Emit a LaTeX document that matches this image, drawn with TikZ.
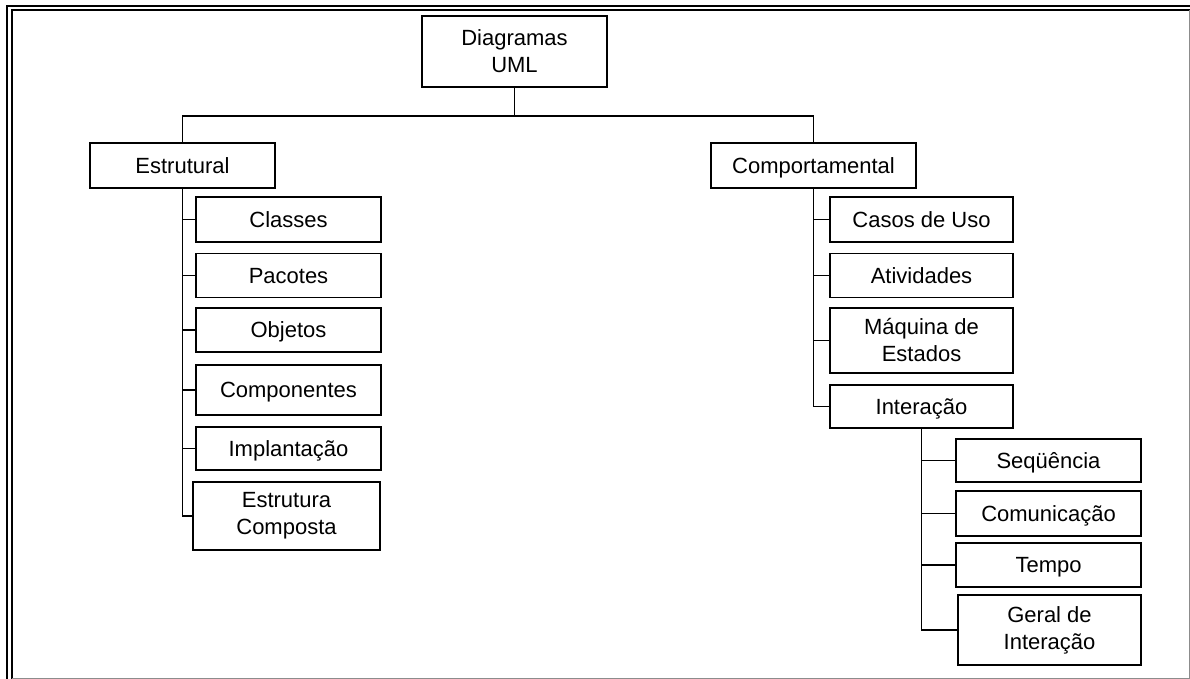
\documentclass[tikz,border=0pt]{standalone}
\usepackage{fontspec}
\setmainfont{Liberation Sans}
\begin{document}
\begin{tikzpicture}[x=1pt, y=-1pt,
  box/.style={draw, line width=1.7pt, inner sep=0pt, align=center,
    font=\fontsize{22}{27}\selectfont},
  one/.style={box, text height=15.5pt, text depth=0pt},
  link/.style={line width=1.7pt},
  frameline/.style={line width=1.6pt}]
\useasboundingbox (0,0) rectangle (1190,679);

% outer frame
\draw[frameline] (7,679) -- (7,6) -- (1190,6);
\draw[frameline] (12,679) -- (12,10) -- (1190,10);
\draw[line width=0.8pt, black!45] (1189,10) -- (1189,678) -- (12,678);

% root
\node[box, minimum width=185, minimum height=71] (root) at (514.5,51.5) {Diagramas\\UML};

% two main branches
\node[one, minimum width=185, minimum height=45] (estr) at (182.5,165.5) {Estrutural};
\node[one, minimum width=205, minimum height=45] (comp) at (813.5,165.5) {Comportamental};

% structural diagrams
\node[one, minimum width=185, minimum height=45] (cls) at (288.5,219.5) {Classes};
\node[one, minimum width=185, minimum height=44] (pac) at (288.5,275.5) {Pacotes};
\node[one, minimum width=185, minimum height=44] (obj) at (288.5,330) {Objetos};
\node[one, minimum width=185, minimum height=50] (cmp) at (288.5,390) {Componentes};
\node[one, minimum width=185, minimum height=43] (imp) at (288.5,448.5) {Implantação};
\node[box, minimum width=187, minimum height=68] (ec) at (286.5,516) {Estrutura\\Composta};

% behavioural diagrams
\node[one, minimum width=183, minimum height=45] (cu) at (921.5,219.5) {Casos de Uso};
\node[one, minimum width=183, minimum height=44] (atv) at (921.5,275.5) {Atividades};
\node[box, minimum width=183, minimum height=65] (maq) at (921.5,340.5) {Máquina de\\Estados};
\node[one, minimum width=183, minimum height=43] (int) at (921.5,406.5) {Interação};

% interaction diagrams
\node[one, minimum width=185, minimum height=43] (seq) at (1048.5,460.5) {Seqüência};
\node[one, minimum width=185, minimum height=45] (com) at (1048.5,513.5) {Comunicação};
\node[one, minimum width=185, minimum height=44] (tem) at (1048.5,565) {Tempo};
\node[box, minimum width=183, minimum height=70] (ger) at (1049.5,630) {Geral de\\Interação};

% connectors
\coordinate (bar) at (514.5,116);
\draw[link] (root.south) -- (bar);
\draw[link] (estr.north) |- (bar) -| (comp.north);

\draw[link] (estr.south) |- (ec.west);
\foreach \n in {cls,pac,obj,cmp,imp}
  \draw[link] (estr.south |- \n.west) -- (\n.west);

\draw[link] (comp.south) |- (int.west);
\foreach \n in {cu,atv,maq}
  \draw[link] (comp.south |- \n.west) -- (\n.west);

\draw[link] (int.south) |- (ger.west);
\foreach \n in {seq,com,tem}
  \draw[link] (int.south |- \n.west) -- (\n.west);
\end{tikzpicture}
\end{document}
